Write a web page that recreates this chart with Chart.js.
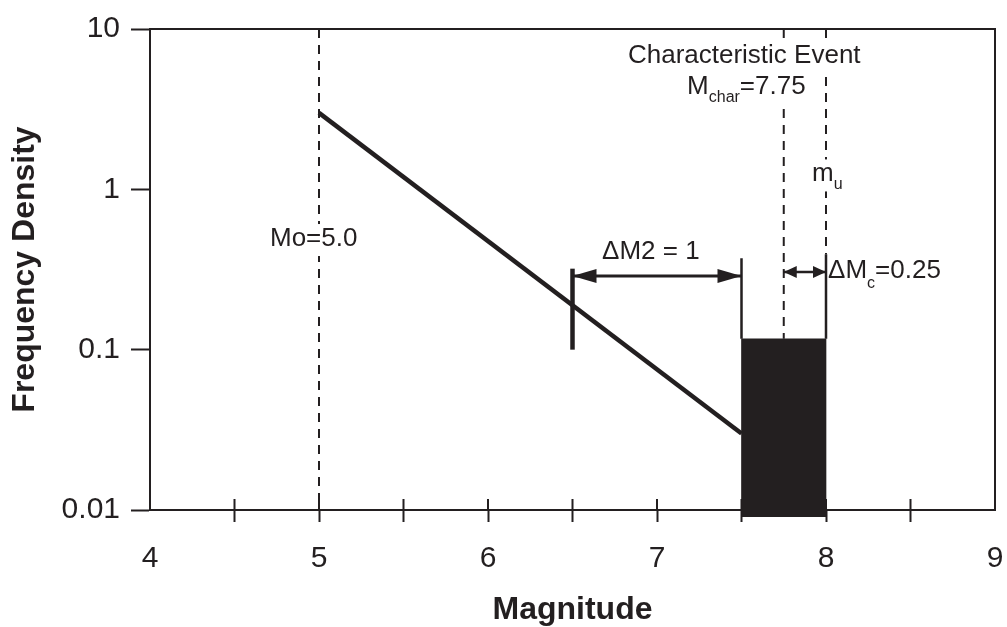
<!DOCTYPE html>
<html>
<head>
<meta charset="utf-8">
<script src="https://cdn.jsdelivr.net/npm/chart.js@4.4.1/dist/chart.umd.min.js"></script>
<style>
  body { margin: 0; background: #fff; }
  #wrap { width: 1007px; height: 627px; }
</style>
</head>
<body>
<div id="wrap"><canvas id="chart" width="1007" height="627"></canvas></div>
<script>
// valeurs
const xTicks = [4, 4.5, 5, 5.5, 6, 6.5, 7, 7.5, 8, 8.5, 9];
const yTicks = [0.01, 0.1, 1, 10];

const grMag = [5, 7.5];           // partie exponentielle
const grRate = [3, 0.03];

const moMag = [5, 5];             // Mo = 5.0
const moRate = [10, 0.01];

const charMag = [7.75, 7.75];     // Mchar = 7.75
const charRate = [10, 0.117];

const muDashMag = [8, 8];         // mu
const muDashRate = [10, 0.394];
const muSolidMag = [8, 8];
const muSolidRate = [0.394, 0.117];

const lowEdgeMag = [7.5, 7.5];
const lowEdgeRate = [0.372, 0.117];

const markMag = [6.5, 6.5];       // repère Mchar - dM2
const markRate = [0.1, 0.32];

const dM2Mag = [6.5, 7.5];
const dM2Rate = [0.288, 0.288];

const dMcMag = [7.75, 8];
const dMcRate = [0.305, 0.305];

const boxMag = [7.75];            // boîte caractéristique 7.5 - 8.0
const boxRate = [[0.0091, 0.117]];

const ink = '#231f20';
const family = "'Liberation Sans', Arial, Helvetica, sans-serif";
Chart.defaults.font.family = family;

// annotations : texte, position (magnitude, densité), décalage des indices
const notes = [
  { parts: [['Mo=5.0']], x: 4.71, y: 0.443, bg: true },
  { parts: [['Characteristic Event']], x: 6.828, y: 6.15, bg: true },
  { parts: [['M'], ['char', 8], ['=7.75']], x: 7.178, y: 3.94, bg: true },
  { parts: [['m'], ['u', 8]], x: 7.917, y: 1.12, bg: true },
  { parts: [['\u0394M2 = 1']], x: 6.675, y: 0.367 },
  { parts: [['\u0394M'], ['c', 10], ['=0.25']], x: 8.012, y: 0.28 }
];

const pts = (xs, ys) => xs.map((x, i) => ({ x: x, y: ys[i] }));

function seg(xs, ys, extra) {
  return Object.assign({
    type: 'line',
    data: pts(xs, ys),
    borderColor: ink,
    borderWidth: 2,
    pointRadius: 0,
    fill: false,
    clip: false
  }, extra || {});
}

function head(ctx, tip, from, size) {
  const ang = Math.atan2(tip.y - from.y, tip.x - from.x);
  ctx.save();
  ctx.translate(tip.x, tip.y);
  ctx.rotate(ang);
  ctx.beginPath();
  ctx.moveTo(0, 0);
  ctx.lineTo(-size[0], -size[1]);
  ctx.lineTo(-size[0], size[1]);
  ctx.closePath();
  ctx.fillStyle = ink;
  ctx.fill();
  ctx.restore();
}

// cadre haut/droite + demi-graduations intérieures
const framePlugin = {
  id: 'frame',
  beforeDatasetsDraw(chart) {
    const { ctx, chartArea: a, scales: { x } } = chart;
    ctx.save();
    ctx.strokeStyle = ink;
    ctx.lineWidth = 2;
    ctx.beginPath();
    ctx.moveTo(a.left, a.top);
    ctx.lineTo(a.right, a.top);
    ctx.lineTo(a.right, a.bottom);
    xTicks.slice(1, -1).forEach(v => {
      const px = x.getPixelForValue(v);
      ctx.moveTo(px, a.bottom);
      ctx.lineTo(px, a.bottom - 11);
    });
    ctx.stroke();
    ctx.restore();
  }
};

// pointes de flèches
const arrowPlugin = {
  id: 'arrows',
  afterDatasetsDraw(chart) {
    const ctx = chart.ctx;
    chart.data.datasets.forEach((ds, i) => {
      if (!ds.arrow) return;
      const p = chart.getDatasetMeta(i).data;
      const a = p[0], b = p[p.length - 1];
      head(ctx, a, b, ds.arrow);
      head(ctx, b, a, ds.arrow);
    });
  }
};

// textes
const notePlugin = {
  id: 'notes',
  afterDatasetsDraw(chart) {
    const { ctx, scales: { x, y } } = chart;
    ctx.save();
    ctx.textBaseline = 'alphabetic';
    ctx.textAlign = 'left';
    notes.forEach(n => {
      let px = x.getPixelForValue(n.x);
      const py = y.getPixelForValue(n.y);
      const widths = n.parts.map(([t, sub]) => {
        ctx.font = (sub ? 16 : 26) + 'px ' + family;
        return ctx.measureText(t).width;
      });
      const total = widths.reduce((s, w) => s + w, 0);
      if (n.bg) {
        ctx.fillStyle = '#fff';
        ctx.fillRect(px - 2, py - 22, total + 4, 32);
      }
      ctx.fillStyle = ink;
      n.parts.forEach(([t, sub], i) => {
        ctx.font = (sub ? 16 : 26) + 'px ' + family;
        ctx.fillText(t, px, py + (sub || 0));
        px += widths[i];
      });
    });
    ctx.restore();
  }
};

const dash = [9, 7];

const datasets = [
  seg(grMag, grRate, { borderWidth: 4.5 }),
  seg(markMag, markRate, { borderWidth: 4.5 }),
  seg(dM2Mag, dM2Rate, { borderWidth: 3, arrow: [24, 7] }),
  seg(dMcMag, dMcRate, { borderWidth: 2.5, arrow: [13, 6] }),
  seg(moMag, moRate, { borderDash: dash }),
  seg(charMag, charRate, { borderDash: dash }),
  seg(muDashMag, muDashRate, { borderDash: dash }),
  seg(muSolidMag, muSolidRate, { borderWidth: 2.5 }),
  seg(lowEdgeMag, lowEdgeRate, { borderWidth: 2.5 }),
  {
    type: 'bar',
    data: boxMag.map((m, i) => ({ x: m, y: boxRate[i] })),
    backgroundColor: ink,
    borderWidth: 0,
    barPercentage: 1,
    categoryPercentage: 1,
    clip: false,
    order: 1
  }
];

const ctx = document.getElementById('chart').getContext('2d');
new Chart(ctx, {
  type: 'line',
  data: { datasets: datasets },
  options: {
    responsive: false,
    animation: false,
    events: [],
    layout: { padding: { top: 27, right: 12, left: 0, bottom: 0 } },
    plugins: {
      legend: { display: false },
      tooltip: { enabled: false }
    },
    scales: {
      x: {
        type: 'linear',
        min: 4,
        max: 9,
        offset: false,
        afterBuildTicks: s => { s.ticks = xTicks.map(v => ({ value: v })); },
        afterFit: s => {
          s.height = 117;
          s.paddingLeft = 0;
          s.paddingRight = 0;
        },
        ticks: {
          autoSkip: false,
          maxRotation: 0,
          padding: 19,
          color: ink,
          font: { size: 30 },
          callback: v => Number.isInteger(v) ? String(v) : ''
        },
        grid: {
          offset: false,
          drawOnChartArea: false,
          tickLength: 12,
          tickWidth: 2,
          tickColor: c => (c.tick && (c.tick.value === 4 || c.tick.value === 9)) ? 'rgba(0,0,0,0)' : ink
        },
        border: { color: ink, width: 2 },
        title: {
          display: true,
          text: 'Magnitude',
          color: ink,
          font: { size: 32, weight: 'bold', lineHeight: 1 },
          padding: { top: 0, bottom: 1 }
        }
      },
      y: {
        type: 'logarithmic',
        min: 0.01,
        max: 10,
        afterBuildTicks: s => { s.ticks = yTicks.map(v => ({ value: v })); },
        afterFit: s => { s.width = 150; },
        ticks: {
          padding: 11,
          color: ink,
          font: { size: 30 },
          callback: v => String(v)
        },
        grid: {
          drawOnChartArea: false,
          tickLength: 19,
          tickWidth: 2,
          tickColor: ink
        },
        border: { color: ink, width: 2 },
        title: {
          display: true,
          text: 'Frequency Density',
          color: ink,
          font: { size: 32, weight: 'bold', lineHeight: 1 },
          padding: { top: 9, bottom: 0 }
        }
      }
    }
  },
  plugins: [framePlugin, arrowPlugin, notePlugin]
});
</script>
</body>
</html>
